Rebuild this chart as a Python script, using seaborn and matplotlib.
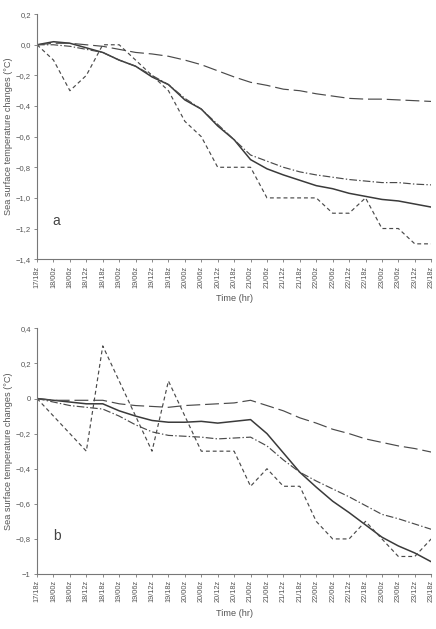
import matplotlib
matplotlib.use('Agg')
import pandas as pd
import matplotlib.pyplot as plt
import seaborn as sns

times = ['17/18z', '18/00z', '18/06z', '18/12z', '18/18z', '19/00z', '19/06z',
         '19/12z', '19/18z', '20/00z', '20/06z', '20/12z', '20/18z', '21/00z',
         '21/06z', '21/12z', '21/18z', '22/00z', '22/06z', '22/12z', '22/18z',
         '23/00z', '23/06z', '23/12z', '23/18z']

# panel a
a_solid = [0, 0.02, 0.01, -0.02, -0.05, -0.10, -0.14, -0.21, -0.26, -0.36, -0.42,
           -0.53, -0.62, -0.75, -0.81, -0.85, -0.885, -0.92, -0.94, -0.97, -0.99,
           -1.01, -1.02, -1.04, -1.06]
a_dashdot = [0, 0.0, -0.01, -0.03, -0.05, -0.10, -0.14, -0.20, -0.26, -0.35, -0.42,
             -0.52, -0.62, -0.72, -0.76, -0.80, -0.83, -0.85, -0.865, -0.88, -0.89,
             -0.90, -0.90, -0.91, -0.915]
a_longdash = [0, 0.01, 0.01, 0.0, -0.01, -0.03, -0.05, -0.06, -0.075, -0.10, -0.13,
              -0.17, -0.21, -0.245, -0.265, -0.29, -0.30, -0.32, -0.335, -0.35, -0.355,
              -0.355, -0.36, -0.365, -0.37]
a_shortdash = [0, -0.1, -0.3, -0.2, 0.0, 0.0, -0.1, -0.2, -0.3, -0.5, -0.6, -0.8,
               -0.8, -0.8, -1.0, -1.0, -1.0, -1.0, -1.1, -1.1, -1.0, -1.2, -1.2, -1.3, -1.3]

# panel b
b_solid = [0, -0.01, -0.02, -0.03, -0.03, -0.07, -0.10, -0.125, -0.135, -0.135, -0.13,
           -0.14, -0.13, -0.12, -0.20, -0.31, -0.42, -0.505, -0.585, -0.65, -0.72,
           -0.79, -0.84, -0.88, -0.93]
b_dashdot = [0, -0.02, -0.04, -0.05, -0.06, -0.10, -0.15, -0.19, -0.21, -0.215, -0.22,
             -0.23, -0.225, -0.22, -0.27, -0.35, -0.42, -0.47, -0.515, -0.56, -0.61,
             -0.66, -0.685, -0.715, -0.745]
b_longdash = [0, -0.01, -0.01, -0.01, -0.01, -0.03, -0.04, -0.045, -0.05, -0.04, -0.035,
              -0.03, -0.025, -0.01, -0.04, -0.07, -0.11, -0.14, -0.175, -0.20, -0.23,
              -0.25, -0.27, -0.285, -0.305]
b_shortdash = [0, -0.1, -0.2, -0.3, 0.3, 0.1, -0.1, -0.3, 0.1, -0.1, -0.3, -0.3, -0.3,
               -0.5, -0.4, -0.5, -0.5, -0.7, -0.8, -0.8, -0.7, -0.8, -0.9, -0.9, -0.8]

a_yticks = [0.2, 0.0, -0.2, -0.4, -0.6, -0.8, -1.0, -1.2, -1.4]
a_ylabels = ['0,2', '0,0', '\u22120,2', '\u22120,4', '\u22120,6', '\u22120,8',
             '\u22121,0', '\u22121,2', '\u22121,4']
b_yticks = [0.4, 0.2, 0.0, -0.2, -0.4, -0.6, -0.8, -1.0]
b_ylabels = ['0,4', '0,2', '0', '\u22120,2', '\u22120,4', '\u22120,6', '\u22120,8', '\u22121']

sns.set_style('ticks')
plt.rcParams['font.family'] = ['Liberation Sans', 'DejaVu Sans']
plt.rcParams['lines.scale_dashes'] = False

# dash patterns in points (not scaled by width)
styles = {
    'solid': dict(color='#3a3a3a', lw=1.1, ls='-'),
    'dashdot': dict(color='#4a4a4a', lw=0.85, ls=(0, (5.5, 1.6, 1.0, 1.6))),
    'longdash': dict(color='#4a4a4a', lw=0.85, ls=(0, (10, 3.5))),
    'shortdash': dict(color='#4a4a4a', lw=0.85, ls=(0, (2.8, 2.1))),
}

fig = plt.figure(figsize=(4.36, 6.29), dpi=100)
ax_a = fig.add_axes([0.085, 0.588, 0.904, 0.3895])
ax_b = fig.add_axes([0.085, 0.0874, 0.904, 0.3906])

panels = [
    (ax_a, 'a', {'solid': a_solid, 'dashdot': a_dashdot, 'longdash': a_longdash,
                 'shortdash': a_shortdash}, a_yticks, a_ylabels, (-1.4, 0.2)),
    (ax_b, 'b', {'solid': b_solid, 'dashdot': b_dashdot, 'longdash': b_longdash,
                 'shortdash': b_shortdash}, b_yticks, b_ylabels, (-1.0, 0.4)),
]

grey = '#555555'
for ax, tag, series, yt, yl, ylim in panels:
    for name, vals in series.items():
        df = pd.DataFrame({'t': range(len(times)), 'v': vals})
        st = styles[name]
        n_before = len(ax.lines)
        sns.lineplot(data=df, x='t', y='v', ax=ax, color=st['color'], lw=st['lw'])
        for ln in ax.lines[n_before:]:
            ln.set_linestyle(st['ls'])
    ax.set_xlim(0, len(times) - 1)
    ax.set_ylim(*ylim)
    ax.set_xticks(range(len(times)))
    ax.set_xticklabels(times, rotation=90, fontsize=5.3, color=grey)
    ax.set_yticks(yt)
    ax.set_yticklabels(yl, fontsize=5.5, color=grey)
    ax.set_xlabel('Time (hr)', fontsize=6.6, color=grey, labelpad=5)
    ax.set_ylabel('Sea surface temperature changes (\u00b0C)', fontsize=6.6,
                  color=grey, labelpad=2)
    ax.tick_params(axis='both', length=2.5, width=0.6, color='#777777', pad=2)
    for side in ['top', 'right']:
        ax.spines[side].set_visible(False)
    for side in ['left', 'bottom']:
        ax.spines[side].set_color('#777777')
        ax.spines[side].set_linewidth(0.8)
    ax.text(0.04, 0.14, tag, transform=ax.transAxes, fontsize=10, color='#444444')

fig.savefig('out.png', dpi=100)
